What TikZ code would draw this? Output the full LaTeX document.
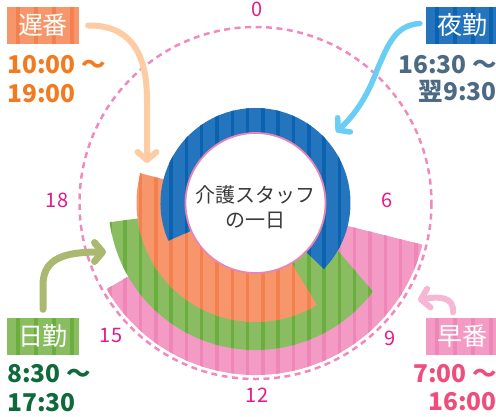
\documentclass[tikz,border=0pt]{standalone}
\usepackage{fontspec}
\setmainfont{Noto Sans CJK JP}
\usetikzlibrary{arrows.meta}

\definecolor{nightblue}{HTML}{2474BE}
\definecolor{nightstripe}{HTML}{0B63B0}
\definecolor{lateorange}{HTML}{F7966B}
\definecolor{latestripe}{HTML}{F3814F}
\definecolor{daygreen}{HTML}{8ABD62}
\definecolor{daystripe}{HTML}{6BAE3F}
\definecolor{earlypink}{HTML}{F39BC5}
\definecolor{earlystripe}{HTML}{EE87B7}
\definecolor{clockpink}{HTML}{E5198A}
\definecolor{dashpink}{HTML}{F08ABE}
\definecolor{ringpink}{HTML}{E985B5}
\definecolor{innertext}{HTML}{3A3A3A}
\definecolor{latetext}{HTML}{F37A1F}
\definecolor{nighttext}{HTML}{4D6A84}
\definecolor{daytext}{HTML}{0E6A3A}
\definecolor{earlytext}{HTML}{EE4E7C}
\definecolor{latearrow}{HTML}{FDCCA2}
\definecolor{nightarrow}{HTML}{6ACDF4}
\definecolor{dayarrow}{HTML}{AAB870}
\definecolor{earlyarrow}{HTML}{F6B7D4}

\newcommand\bandstripes[1]{\foreach \k in {0,...,32} \fill[#1] ({1+15.3*\k},0) rectangle ++(3.5,416);}
\newcommand\boxstripes[1]{\foreach \k in {0,...,3} \fill[#1] ([xshift={9pt+18pt*\k}]path picture bounding box.south west) rectangle ([xshift={12.5pt+18pt*\k}]path picture bounding box.north west);}

\tikzset{
  shiftbox/.style={minimum width=72pt, minimum height=37pt, inner sep=0pt, text=white, font=\fontsize{25}{25}\selectfont},
  clocknum/.style={text=clockpink, font=\fontsize{20}{20}\selectfont, inner sep=0pt},
  timetext/.style={font=\fontsize{24.5}{24.5}\selectfont\bfseries, inner sep=0pt},
  pointer/.style={line width=6pt, line cap=round, -{Straight Barb[length=8pt,width=19pt,round]}},
}

\begin{document}
\begin{tikzpicture}[x=1pt, y=-1pt]
    \useasboundingbox (0,0) rectangle (496,416);
    \coordinate (C) at (255.5,203);

    % early shift band
    \begin{scope}
        \clip[shift={(C)}] (0,0) -- (14:172) arc[start angle=14, end angle=150, radius=172] -- cycle;
        \fill[earlypink] (0,0) rectangle (496,416);
        \bandstripes{earlystripe}
    \end{scope}

    % day shift band
    \begin{scope}
        \clip[shift={(C)}] (41.5,0) -- (37:147) arc[start angle=37, end angle=172.5, radius=147] -- (0,0) -- cycle;
        \fill[daygreen] (0,0) rectangle (496,416);
        \bandstripes{daystripe}
    \end{scope}

    % late shift band
    \begin{scope}
        \clip[shift={(C)}] (0,0) -- (59:119) arc[start angle=59, end angle=194.5, radius=119] -- cycle;
        \fill[lateorange] (0,0) rectangle (496,416);
        \bandstripes{latestripe}
    \end{scope}

    % night shift ring
    \begin{scope}
        \clip[shift={(C)}] (0,0) -- (156.6:95) arc[start angle=156.6, end angle=404, radius=95] -- cycle;
        \fill[nightblue] (0,0) rectangle (496,416);
        \bandstripes{nightstripe}
    \end{scope}

    % centre
    \draw[ringpink, line width=1.8pt, fill=white] (C) circle[radius=70];
    \node[align=center, text=innertext, font=\fontsize{20}{25}\selectfont] (title) at (255.5,207) {介護スタッフ\\の一日};

    % clock face
    \draw[dashpink, line width=2.5pt, dash pattern=on 6pt off 4.5pt] (C) circle[radius=176];
    \foreach \h/\x/\y in {0/257/9, 6/387/200, 9/390/338, 12/257/395, 15/111/335, 18/57/200} {
        \node[clocknum] (h\h) at (\x,\y) {\h};
    }

    % shift labels
    \node[shiftbox, fill=lateorange, path picture={\boxstripes{latestripe}}] (late) at (43,25.5) {遅番};
    \node[shiftbox, fill=nightblue, path picture={\boxstripes{nightstripe}}] (night) at (462,25.5) {夜勤};
    \node[shiftbox, fill=daygreen, path picture={\boxstripes{daystripe}}] (day) at (43,336) {日勤};
    \node[shiftbox, fill=earlypink, path picture={\boxstripes{earlystripe}}] (early) at (462,336) {早番};

    \node[timetext, text=latetext, anchor=base west] (latefrom) at (7,73) {10:00 〜};
    \node[timetext, text=latetext, anchor=base west] (lateto) at (7,102) {19:00};
    \node[timetext, text=nighttext, anchor=base east] (nightfrom) at (497,73) {16:30 〜};
    \node[timetext, text=nighttext, anchor=base east] (nightto) at (497,100) {翌9:30};
    \node[timetext, text=daytext, anchor=base west] (dayfrom) at (7,382) {8:30 〜};
    \node[timetext, text=daytext, anchor=base west] (dayto) at (7,411) {17:30};
    \node[timetext, text=earlytext, anchor=base east] (earlyfrom) at (497,382) {7:00 〜};
    \node[timetext, text=earlytext, anchor=base east] (earlyto) at (497,410) {16:00};

    % pointers
    \coordinate (lateend) at (147,163);
    \coordinate (nightend) at (336,132);
    \coordinate (dayend) at (106,252);
    \coordinate (earlyend) at (418,300);
    \draw[pointer, latearrow] ([xshift=9pt]late.east) .. controls (128,25) and (147,50) .. (147,100) -- (lateend);
    \draw[pointer, nightarrow, line width=5.5pt] ([xshift=-6pt,yshift=2pt]night.west) .. controls (395,25) and (388,45) .. (377,70) .. controls (368,95) and (355,115) .. (nightend);
    \draw[pointer, dayarrow, line width=7pt] ([yshift=8pt]day.north) -- (43,285) .. controls (43,258) and (65,252) .. (dayend);
    \draw[pointer, earlyarrow] ([xshift=-9pt,yshift=5pt]early.north) .. controls (454,297) and (440,296) .. (earlyend);
\end{tikzpicture}
\end{document}
